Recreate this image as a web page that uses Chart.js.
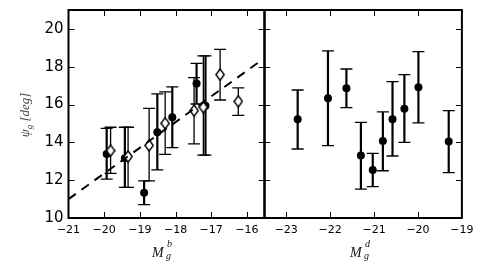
<!DOCTYPE html>
<html>
<head>
<meta charset="utf-8">
<script src="https://cdn.jsdelivr.net/npm/chart.js@4.4.0/dist/chart.umd.min.js"></script>
<style>
  html, body { margin:0; padding:0; background:#fff; }
  body { width:490px; height:280px; position:relative; overflow:hidden; }
  .pane { position:absolute; top:0; }
  .t { position:absolute; white-space:nowrap; color:#111; font-family:"Liberation Serif","DejaVu Serif",serif; font-style:italic; }
  .big { font-size:14px; line-height:14px; }
  .small { font-size:10px; line-height:10px; }
  #ylab { position:absolute; left:-7px; top:107px; width:64px; height:16px; line-height:16px; text-align:center;
          transform:rotate(-90deg); transform-origin:50% 50%; color:#444;
          font-family:"Liberation Serif","DejaVu Serif",serif; font-style:italic; font-size:13px; white-space:nowrap; }
  #ylab sub { font-size:9px; vertical-align:-3px; line-height:0; }
</style>
</head>
<body>
<div class="pane" id="p1" style="left:0;width:272px;height:280px"><canvas id="c1" width="272" height="280"></canvas></div>
<div class="pane" id="p2" style="left:262px;width:228px;height:280px"><canvas id="c2" width="228" height="280"></canvas></div>

<div id="ylab">ψ<sub>g</sub> [deg]</div>

<span class="t big" style="left:152px;top:245.5px">M</span>
<span class="t small" style="left:167px;top:239px">b</span>
<span class="t small" style="left:166px;top:251px">g</span>

<span class="t big" style="left:350px;top:245.5px">M</span>
<span class="t small" style="left:365px;top:239px">d</span>
<span class="t small" style="left:364px;top:251px">g</span>

<script>
// ---- tick values ----
const xTicksL = [-21, -20, -19, -18, -17, -16];
const xTicksR = [-23, -22, -21, -20, -19];
const yTicks  = [10, 12, 14, 16, 18, 20];

// ---- left panel: filled circles ----
const magF = [-19.93, -19.42, -18.88, -18.51, -18.09, -17.41, -17.16];
const psiF = [13.39, 13.16, 11.34, 14.53, 15.33, 17.11, 15.93];
const loF  = [12.06, 11.62, 10.71, 12.54, 13.72, 16.03, 13.32];
const hiF  = [14.74, 14.80, 11.96, 16.56, 16.93, 18.18, 18.57];

// ---- left panel: open diamonds ----
const magD = [-19.82, -19.33, -18.74, -18.29, -17.48, -17.22, -16.75, -16.24];
const psiD = [13.56, 13.25, 13.84, 15.01, 15.68, 15.86, 17.58, 16.17];
const loD  = [12.36, 11.62, 11.96, 13.37, 13.92, 13.32, 16.24, 15.43];
const hiD  = [14.80, 14.80, 15.80, 16.67, 17.42, 18.57, 18.92, 16.88];

// ---- left panel: dashed fit ----
const fitX = [-21, -15.68];
const fitY = [11.0, 18.22];

// ---- right panel ----
const magR = [-22.74, -22.05, -21.63, -21.30, -21.03, -20.80, -20.58, -20.31, -19.99, -19.30];
const psiR = [15.22, 16.33, 16.86, 13.30, 12.54, 14.07, 15.22, 15.78, 16.91, 14.04];
const loR  = [13.65, 13.83, 15.84, 11.53, 11.66, 12.50, 13.28, 14.00, 15.03, 12.40];
const hiR  = [16.77, 18.84, 17.88, 15.06, 13.42, 15.61, 17.21, 17.58, 18.80, 15.68];

const pts = (xs, ys) => xs.map((x, i) => ({x, y: ys[i]}));
const bars = (xs, lo, hi) => {
  const out = [];
  xs.forEach((x, i) => { out.push({x, y: lo[i]}, {x, y: hi[i]}, {x, y: null}); });
  return out;
};
const fmt = v => (v < 0 ? '\u2212' : '') + Math.abs(v);

// thin diamond marker
const dia = document.createElement('canvas');
dia.width = 10; dia.height = 13;
{
  const c = dia.getContext('2d');
  c.beginPath();
  c.moveTo(5, 0.9); c.lineTo(9.1, 6.5); c.lineTo(5, 12.1); c.lineTo(0.9, 6.5); c.closePath();
  c.fillStyle = '#fff'; c.fill();
  c.lineWidth = 1.5; c.strokeStyle = '#000'; c.stroke();
}

const framePlugin = {
  id: 'frame',
  afterDatasetsDraw(chart, args, opts) {
    const {ctx, chartArea: a, scales: {x, y}} = chart;
    ctx.save();
    ctx.strokeStyle = '#000';
    ctx.lineWidth = 1;
    ctx.beginPath();
    for (const v of opts.xt) {
      const p = Math.round(x.getPixelForValue(v)) + 0.5;
      if (p <= a.left + 2 || p >= a.right - 2) continue;
      ctx.moveTo(p, a.bottom); ctx.lineTo(p, a.bottom - 6);
      ctx.moveTo(p, a.top); ctx.lineTo(p, a.top + 6);
    }
    for (const v of opts.yt) {
      const p = Math.round(y.getPixelForValue(v)) + 0.5;
      if (p <= a.top + 2 || p >= a.bottom - 2) continue;
      ctx.moveTo(a.left, p); ctx.lineTo(a.left + 6, p);
      ctx.moveTo(a.right, p); ctx.lineTo(a.right - 6, p);
    }
    ctx.stroke();
    ctx.lineWidth = 2;
    ctx.strokeRect(a.left, a.top, a.right - a.left, a.bottom - a.top);
    ctx.restore();
  }
};

function errDs(xs, lo, hi, w, col, order) {
  return {
    data: bars(xs, lo, hi), showLine: true, spanGaps: false,
    borderColor: col, borderWidth: w,
    pointStyle: 'line', pointRadius: 6, pointHoverRadius: 6,
    pointBorderColor: col, pointBorderWidth: 1.3, pointBackgroundColor: col,
    order
  };
}

function baseOptions(xmin, xmax, xt, showY, pad) {
  return {
    responsive: false, animation: false, events: [],
    layout: { padding: pad },
    plugins: { legend: { display: false }, tooltip: { enabled: false }, frame: { xt, yt: yTicks } },
    scales: {
      x: {
        type: 'linear', min: xmin, max: xmax,
        afterBuildTicks: s => { s.ticks = xt.map(v => ({value: v})); },
        afterFit: s => { s.height = 62; s.paddingLeft = 0; s.paddingRight = 0; },
        grid: { display: false, drawTicks: false }, border: { display: false },
        ticks: { padding: 6, color: '#000', font: { family: 'DejaVu Sans', size: 11 }, callback: v => fmt(v), autoSkip: false, maxRotation: 0 }
      },
      y: {
        type: 'linear', min: 10, max: 21, display: showY,
        afterBuildTicks: s => { s.ticks = yTicks.map(v => ({value: v})); },
        afterFit: s => { s.width = showY ? 68.5 : 0; s.paddingTop = 0; s.paddingBottom = 0; },
        grid: { display: false, drawTicks: false }, border: { display: false },
        ticks: { padding: 5, color: '#000', font: { family: 'DejaVu Sans', size: 15 }, callback: v => fmt(v) }
      }
    }
  };
}

const chartL = new Chart(document.getElementById('c1'), {
  type: 'scatter',
  data: {
    datasets: [
      { data: pts(fitX, fitY), showLine: true, borderColor: '#000', borderWidth: 2, borderDash: [9, 7], pointRadius: 0, order: 0 },
      { data: pts(magD, psiD), pointStyle: dia, pointRadius: 5, order: 1 },
      { data: pts(magF, psiF), pointStyle: 'circle', pointRadius: 4, backgroundColor: '#000', borderColor: '#000', borderWidth: 0, order: 2 },
      errDs(magF, loF, hiF, 2.2, '#000', 3),
      errDs(magD, loD, hiD, 1.3, '#000', 4)
    ]
  },
  options: baseOptions(-21, -15.5, xTicksL, true, { left: 0, top: 10, right: 272 - 265.7, bottom: 0 }),
  plugins: [framePlugin]
});

const chartR = new Chart(document.getElementById('c2'), {
  type: 'scatter',
  data: {
    datasets: [
      { data: pts(magR, psiR), pointStyle: 'circle', pointRadius: 4, backgroundColor: '#000', borderColor: '#000', borderWidth: 0, order: 1 },
      errDs(magR, loR, hiR, 2.2, '#000', 2)
    ]
  },
  options: baseOptions(-23.5, -19, xTicksR, false, { left: 3.7, top: 10, right: 27.7, bottom: 0 }),
  plugins: [framePlugin]
});

// align the right panel's frame with the left panel's right edge
{
  const shared = chartL.chartArea.right;
  const off = shared - chartR.chartArea.left;
  document.getElementById('p2').style.left = off + 'px';
  const wantRight = 462.3 - off;
  chartR.options.layout.padding.right += chartR.chartArea.right - wantRight;
  chartR.update();
  const off2 = shared - chartR.chartArea.left;
  document.getElementById('p2').style.left = off2 + 'px';
}
</script>
</body>
</html>
